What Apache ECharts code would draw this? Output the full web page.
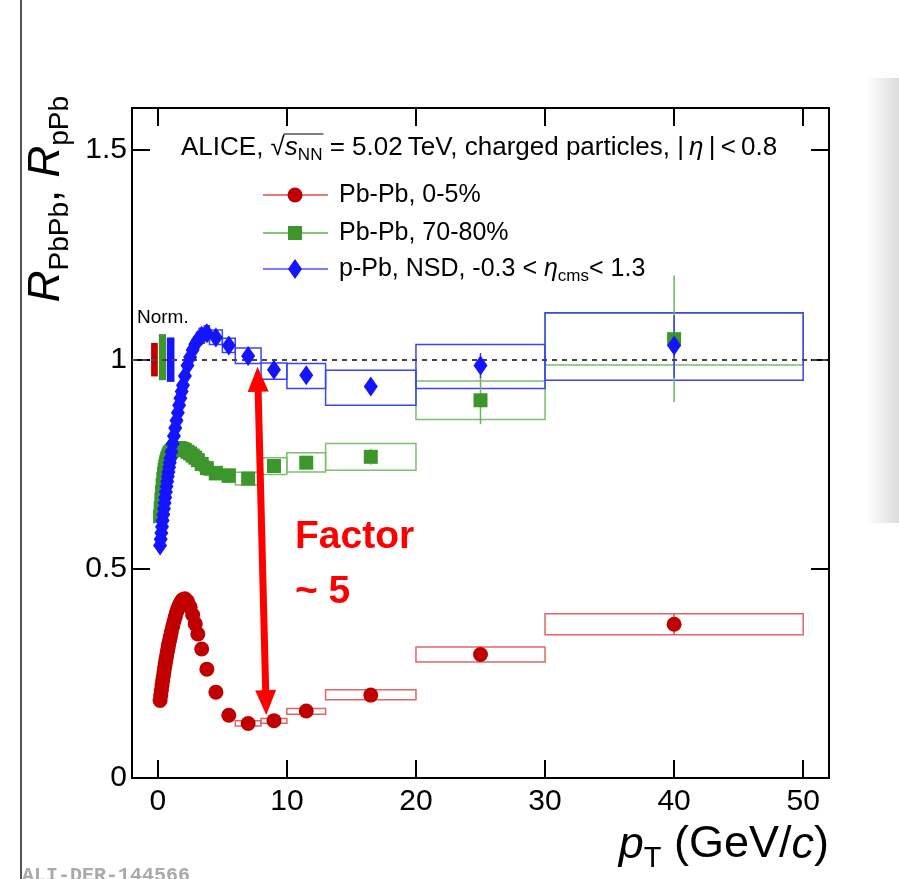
<!DOCTYPE html>
<html>
<head>
<meta charset="utf-8">
<title>R_AA charged particles</title>
<script src="https://cdn.jsdelivr.net/npm/echarts@6/dist/echarts.min.js"></script>
<style>
html, body { margin: 0; padding: 0; background: #fff; }
#main { width: 899px; height: 879px; }
</style>
</head>
<body>
<div id="main"></div>
<script>
// pT bin centres (GeV/c), shared by the three spectra
var ptBins = [0.175,0.225,0.275,0.325,0.375,0.425,0.475,0.525,0.575,0.625,0.675,0.725,0.775,0.825,0.875,0.925,0.975,
    1.05,1.15,1.25,1.35,1.45,1.55,1.65,1.75,1.85,1.95,
    2.1,2.3,2.5,2.7,2.9,3.1,
    3.4,3.8,4.5,5.5,7,9,11.5,16.5,25,40];

// Pb-Pb 0-5%
var rPbPb05 = [0.185,0.197,0.209,0.221,0.232,0.243,0.253,0.263,0.273,0.282,0.291,0.300,0.308,0.316,0.324,0.331,0.338,
    0.349,0.362,0.374,0.385,0.395,0.404,0.412,0.418,0.423,0.426,
    0.428,0.422,0.408,0.390,0.368,0.344,
    0.308,0.260,0.205,0.150,0.130,0.137,0.160,0.198,0.295,0.367];
// Pb-Pb 70-80%
var rPbPb7080 = [0.625,0.645,0.665,0.683,0.700,0.714,0.726,0.736,0.744,0.751,0.757,0.762,0.766,0.770,0.773,0.776,0.778,
    0.781,0.784,0.786,0.787,0.788,0.788,0.788,0.787,0.786,0.785,
    0.783,0.779,0.775,0.770,0.765,0.759,
    0.750,0.740,0.728,0.722,0.715,0.745,0.753,0.767,0.902,1.048];
// p-Pb NSD
var rpPb = [0.555,0.570,0.585,0.600,0.615,0.629,0.643,0.657,0.670,0.683,0.696,0.708,0.720,0.731,0.742,0.753,0.764,
    0.779,0.798,0.817,0.836,0.854,0.872,0.890,0.907,0.923,0.938,
    0.960,0.985,1.005,1.022,1.036,1.046,
    1.056,1.062,1.052,1.033,1.008,0.975,0.962,0.935,0.985,1.033];

// systematic boxes: [ptLow, ptHigh, low, high]
var sysPbPb05 = [[6,8,0.124,0.137],[8,10,0.131,0.142],[10,13,0.152,0.166],
    [13,20,0.187,0.211],[20,30,0.277,0.313],[30,50,0.342,0.392]];
var sysPbPb7080 = [[3.2,3.6,0.733,0.767],[3.6,4.0,0.723,0.757],[4,5,0.712,0.744],[5,6,0.706,0.738],[6,8,0.700,0.730],
    [8,10,0.725,0.765],[10,13,0.731,0.777],[13,20,0.735,0.799],[20,30,0.856,0.948],[30,50,0.986,1.110]];
var syspPb = [[2.0,2.2,0.942,0.978],[2.2,2.4,0.967,1.003],[2.4,2.6,0.987,1.023],[2.6,2.8,1.004,1.040],[2.8,3.0,1.018,1.054],
    [3.0,3.2,1.028,1.064],[3.2,3.6,1.038,1.074],[3.6,4.0,1.044,1.080],[4,5,1.035,1.070],[5,6,1.016,1.050],
    [6,8,0.990,1.027],[8,10,0.952,0.991],[10,13,0.930,0.990],[13,20,0.890,0.974],[20,30,0.930,1.035],[30,50,0.950,1.111]];

// statistical error bars: [pt, low, high]
var statPbPb05 = [[25,0.283,0.307],[40,0.342,0.392]];
var statPbPb7080 = [[16.5,0.748,0.786],[25,0.845,0.958],[40,0.898,1.200]];
var statpPb = [[25,0.955,1.015],[40,0.956,1.105]];

// normalisation uncertainties: [xLow, xHigh, low, high]
var normBoxes = [[-0.52,0.0,0.959,1.039],[0.08,0.64,0.950,1.060],[0.70,1.29,0.946,1.052]];

var xTicks = [0, 10, 20, 30, 40, 50];
var yTicks = [0, 0.5, 1, 1.5];

// double arrow between 0-5% and p-Pb (symbol centres)
var arrowTop = [7.75, 0.952];
var arrowBottom = [8.38, 0.180];

var FONT = 'Liberation Sans';
var RED = '#c00000', GREEN = '#3c962c', BLUE = '#1414ff';

function pairs(ys) {
    return ptBins.map(function (x, i) { return [x, ys[i]]; });
}

function boxItem(color, filled) {
    return function (params, api) {
        var a = api.coord([api.value(0), api.value(3)]);
        var b = api.coord([api.value(1), api.value(2)]);
        return {
            type: 'rect',
            shape: { x: a[0], y: a[1], width: b[0] - a[0], height: b[1] - a[1] },
            style: filled ? { fill: color } : { fill: 'none', stroke: color, lineWidth: 1.5 }
        };
    };
}

function errItem(color) {
    return function (params, api) {
        var a = api.coord([api.value(0), api.value(1)]);
        var b = api.coord([api.value(0), api.value(2)]);
        return {
            type: 'line',
            shape: { x1: a[0], y1: a[1], x2: b[0], y2: b[1] },
            style: { stroke: color, lineWidth: 1.5 }
        };
    };
}

var normColors = [RED, GREEN, BLUE];

var chart = echarts.init(document.getElementById('main'));

// measure header text to place the bar of the square root
var HS = 26;
var cv = document.createElement('canvas').getContext('2d');
cv.font = HS + 'px "' + FONT + '"';
var headX = 181, headY = 148;
var rootStart = headX + cv.measureText('ALICE, \u221A').width - 1;
cv.font = 'italic ' + HS + 'px "' + FONT + '"';
var rootLen = cv.measureText('s').width;
cv.font = '17px "' + FONT + '"';
rootLen += cv.measureText('NN').width + 2;

var axisLine = { show: true, onZero: false, lineStyle: { color: '#000', width: 2 } };
var axisTick = { show: true, inside: true, length: 18, lineStyle: { color: '#000', width: 2 } };

var legendRows = [
    { y: 195, color: RED, line: '#e27c7c', shape: 'circle', text: '{t|Pb-Pb, 0-5%}' },
    { y: 233, color: GREEN, line: '#8cc47e', shape: 'rect', text: '{t|Pb-Pb, 70-80%}' },
    { y: 269, color: BLUE, line: '#7b7bff', shape: 'diamond', text: '{t|p-Pb, NSD, -0.3 < }{i|\u03B7}{s|cms}{t|< 1.3}' }
];

var legendGraphics = [];
legendRows.forEach(function (r) {
    legendGraphics.push({ type: 'line', shape: { x1: 263, y1: r.y, x2: 328, y2: r.y }, style: { stroke: r.line, lineWidth: 2 } });
    if (r.shape === 'circle') {
        legendGraphics.push({ type: 'circle', shape: { cx: 295, cy: r.y, r: 7.5 }, style: { fill: r.color } });
    } else if (r.shape === 'rect') {
        legendGraphics.push({ type: 'rect', shape: { x: 288, y: r.y - 7, width: 14, height: 14 }, style: { fill: r.color } });
    } else {
        legendGraphics.push({ type: 'polygon', shape: { points: [[295, r.y - 10], [302, r.y], [295, r.y + 10], [288, r.y]] }, style: { fill: r.color } });
    }
    legendGraphics.push({
        type: 'text', x: 339, y: r.y,
        style: {
            text: r.text, verticalAlign: 'middle', fill: '#000',
            rich: {
                t: { fontSize: 25, fontFamily: FONT, lineHeight: 32 },
                i: { fontSize: 25, fontFamily: FONT, fontStyle: 'italic', lineHeight: 32 },
                s: { fontSize: 17, fontFamily: FONT, lineHeight: 17, verticalAlign: 'bottom' }
            }
        }
    });
});

var option = {
    animation: false,
    backgroundColor: '#fff',
    grid: { left: 132, right: 70, top: 108, bottom: 101, show: true, borderColor: '#000', borderWidth: 2 },
    xAxis: [{
        type: 'value', min: -2, max: 52, position: 'bottom',
        axisLine: axisLine,
        axisTick: Object.assign({ customValues: xTicks }, axisTick),
        axisLabel: { customValues: xTicks, fontSize: 30, fontFamily: FONT, color: '#000', margin: 9 },
        splitLine: { show: false }
    }, {
        type: 'value', min: -2, max: 52, position: 'top',
        axisLine: axisLine,
        axisTick: Object.assign({ customValues: xTicks }, axisTick),
        axisLabel: { show: false },
        splitLine: { show: false }
    }],
    yAxis: [{
        type: 'value', min: 0, max: 1.6, position: 'left',
        axisLine: axisLine,
        axisTick: Object.assign({ customValues: yTicks }, axisTick),
        axisLabel: { customValues: yTicks, fontSize: 30, fontFamily: FONT, color: '#000', margin: 5 },
        splitLine: { show: false }
    }, {
        type: 'value', min: 0, max: 1.6, position: 'right',
        axisLine: axisLine,
        axisTick: Object.assign({ customValues: yTicks }, axisTick),
        axisLabel: { show: false },
        splitLine: { show: false }
    }],
    series: [
        { type: 'custom', z: 2, silent: true, renderItem: function (params, api) {
            return boxItem(normColors[params.dataIndex], true)(params, api);
        }, encode: { x: [0, 1], y: [2, 3] }, data: normBoxes },
        { type: 'custom', z: 2, silent: true, renderItem: boxItem('#e06666'), encode: { x: [0, 1], y: [2, 3] }, data: sysPbPb05 },
        { type: 'custom', z: 2, silent: true, renderItem: boxItem('#7cbf6e'), encode: { x: [0, 1], y: [2, 3] }, data: sysPbPb7080 },
        { type: 'custom', z: 2, silent: true, renderItem: boxItem('#3b46f0'), encode: { x: [0, 1], y: [2, 3] }, data: syspPb },
        { type: 'custom', z: 3, silent: true, renderItem: errItem('#d05050'), encode: { x: 0, y: [1, 2] }, data: statPbPb05 },
        { type: 'custom', z: 3, silent: true, renderItem: errItem('#6cb55e'), encode: { x: 0, y: [1, 2] }, data: statPbPb7080 },
        { type: 'custom', z: 3, silent: true, renderItem: errItem('#3a3aff'), encode: { x: 0, y: [1, 2] }, data: statpPb },
        {
            type: 'scatter', name: 'Pb-Pb, 0-5%', z: 4, silent: true,
            symbol: 'circle', symbolSize: 15, itemStyle: { color: RED, opacity: 1 },
            data: pairs(rPbPb05)
        },
        {
            type: 'scatter', name: 'Pb-Pb, 70-80%', z: 4, silent: true,
            symbol: 'rect', symbolSize: 14, itemStyle: { color: GREEN, opacity: 1 },
            data: pairs(rPbPb7080)
        },
        {
            type: 'scatter', name: 'p-Pb, NSD', z: 5, silent: true,
            symbol: 'diamond', symbolSize: [14, 20], itemStyle: { color: BLUE, opacity: 1 },
            data: pairs(rpPb),
            markLine: {
                silent: true, symbol: 'none', label: { show: false },
                lineStyle: { color: '#444', type: [5, 5], width: 2 },
                data: [{ yAxis: 1 }]
            }
        },
        {
            type: 'scatter', z: 10, silent: true, data: [],
            markLine: {
                silent: true, symbol: ['triangle', 'triangle'], symbolSize: [21, 25], label: { show: false },
                lineStyle: { color: '#ff0000', width: 7, type: 'solid' },
                data: [[{ coord: arrowTop }, { coord: arrowBottom }]]
            }
        }
    ],
    graphic: [
        { type: 'rect', shape: { x: 20, y: 0, width: 2, height: 879 }, style: { fill: '#555' } },
        { type: 'rect', shape: { x: 866, y: 78, width: 33, height: 445 },
          style: { fill: new echarts.graphic.LinearGradient(0, 0, 1, 0, [{ offset: 0, color: 'rgba(220,220,220,0)' }, { offset: 1, color: '#dcdcdc' }]) } },
        {
            type: 'text', x: headX, y: headY,
            style: {
                text: '{t|ALICE, \u221A}{i|s}{s|NN}{t| = 5.02\u2009TeV, charged particles, |\u2009}{i|\u03B7}{t|\u2009|\u2009<\u20090.8}',
                verticalAlign: 'middle', fill: '#000',
                rich: {
                    t: { fontSize: HS, fontFamily: FONT, lineHeight: 32 },
                    i: { fontSize: HS, fontFamily: FONT, fontStyle: 'italic', lineHeight: 32 },
                    s: { fontSize: 17, fontFamily: FONT, lineHeight: 17, verticalAlign: 'bottom' }
                }
            }
        },
        { type: 'line', shape: { x1: rootStart, y1: headY - 14, x2: rootStart + rootLen, y2: headY - 14 }, style: { stroke: '#000', lineWidth: 1.2 } },
        {
            type: 'text', x: 137, y: 318,
            style: { text: 'Norm.', fontSize: 19, fontFamily: FONT, fill: '#000', verticalAlign: 'middle' }
        },
        {
            type: 'text', x: 295, y: 537,
            style: { text: 'Factor', fontSize: 39, fontWeight: 'bold', fontFamily: FONT, fill: '#ff0000', verticalAlign: 'middle' }
        },
        {
            type: 'text', x: 295, y: 592,
            style: { text: '~ 5', fontSize: 39, fontWeight: 'bold', fontFamily: FONT, fill: '#ff0000', verticalAlign: 'middle' }
        },
        {
            type: 'text', x: 47, y: 96, rotation: Math.PI / 2,
            style: {
                text: '{R|R}{s|PbPb}{c|, }{R|R}{s|pPb}',
                align: 'right', verticalAlign: 'middle', fill: '#000',
                rich: {
                    R: { fontSize: 44, fontFamily: FONT, fontStyle: 'italic', lineHeight: 54 },
                    c: { fontSize: 44, fontFamily: FONT, lineHeight: 54 },
                    s: { fontSize: 28, fontFamily: FONT, lineHeight: 28, verticalAlign: 'bottom' }
                }
            }
        },
        {
            type: 'text', x: 829, y: 845,
            style: {
                text: '{i|p}{s|T}{c| (GeV/}{i|c}{c|)}',
                align: 'right', verticalAlign: 'middle', fill: '#000',
                rich: {
                    i: { fontSize: 45, fontFamily: FONT, fontStyle: 'italic', lineHeight: 56 },
                    c: { fontSize: 45, fontFamily: FONT, lineHeight: 56 },
                    s: { fontSize: 29, fontFamily: FONT, lineHeight: 29, verticalAlign: 'bottom' }
                }
            }
        },
        {
            type: 'text', x: 22, y: 866,
            style: { text: 'ALI-DER-144566', fontSize: 20, fontWeight: 'bold', fontFamily: 'Liberation Mono', fill: '#aaa' }
        }
    ].concat(legendGraphics)
};

chart.setOption(option);
</script>
</body>
</html>
